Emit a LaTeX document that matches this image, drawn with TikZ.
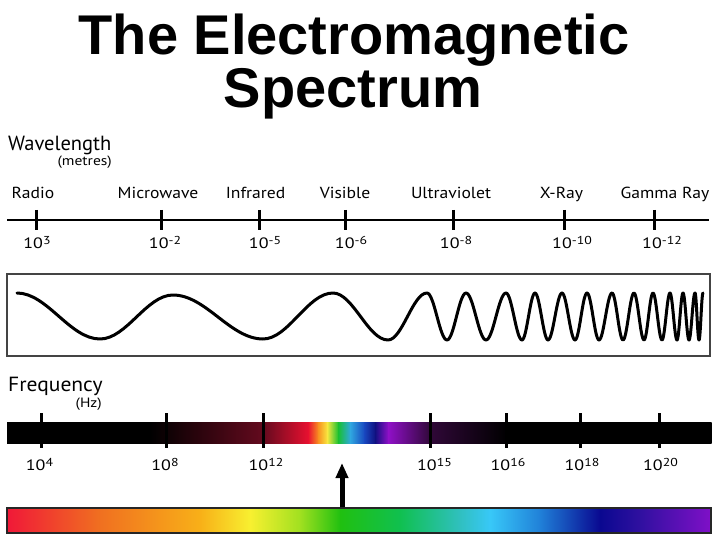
\documentclass[tikz,border=0pt]{standalone}
\usepackage{fontspec}
\setmainfont{PT Sans}
\newfontfamily\titlefont{Liberation Sans}
\usetikzlibrary{arrows.meta}
\newcommand\tenp[1]{10\raisebox{4pt}{\fontsize{11.5}{12}\selectfont #1}}
\definecolor{fmaroon}{HTML}{640A1E}
\definecolor{fred}{HTML}{E81030}
\definecolor{forange}{HTML}{F89020}
\definecolor{fyellow}{HTML}{F8E840}
\definecolor{fgreen}{HTML}{18C030}
\definecolor{fcyan}{HTML}{30A8E0}
\definecolor{fblue}{HTML}{1848C0}
\definecolor{fnavy}{HTML}{101080}
\definecolor{fviolet}{HTML}{9010C8}
\definecolor{fdpurple}{HTML}{300838}
\definecolor{s1}{HTML}{F01838}
\definecolor{s2}{HTML}{F07020}
\definecolor{s3}{HTML}{F8B018}
\definecolor{s4}{HTML}{F8F030}
\definecolor{s5}{HTML}{A0E020}
\definecolor{s6}{HTML}{20C010}
\definecolor{s7}{HTML}{10C050}
\definecolor{s8}{HTML}{30C0C0}
\definecolor{s9}{HTML}{38C8F8}
\definecolor{s10}{HTML}{2080D8}
\definecolor{s11}{HTML}{1030A8}
\definecolor{s12}{HTML}{0A0890}
\definecolor{s13}{HTML}{3010A0}
\definecolor{s14}{HTML}{8010C8}
\definecolor{boxgray}{HTML}{444444}
\tikzset{
  titletext/.style={font=\titlefont\bfseries\fontsize{56}{60}\selectfont, anchor=base, inner sep=0pt},
  headtext/.style={font=\fontsize{20.5}{22}\selectfont, anchor=base west, inner sep=0pt},
  unittext/.style={font=\fontsize{13.5}{15}\selectfont, anchor=base east, inner sep=0pt, xscale=1.15},
  bandtext/.style={font=\fontsize{16}{18}\selectfont, anchor=base, inner sep=0pt, xscale=1.1},
  numtext/.style={font=\fontsize{15}{18}\selectfont, anchor=base, inner sep=0pt, xscale=1.2},
  axisline/.style={line width=2.5pt, black},
  tickmark/.style={line width=3pt, black},
  wave/.style={line width=3pt, black, line cap=round, line join=round},
}
\begin{document}
\begin{tikzpicture}[x=1pt,y=-1pt]
\fill[white] (0,0) rectangle (720,540);
\useasboundingbox (0,0) rectangle (720,540);
% title
\node[titletext] (title1) at (354,55) {The Electromagnetic};
\node[titletext] (title2) at (353,108) {Spectrum};
% wavelength
\node[headtext] (wl) at (8,151) {Wavelength};
\node[unittext] (wlunit) at (112,166) {(metres)};
\coordinate (wlL) at (7,220);
\coordinate (wlR) at (709,220);
\draw[axisline] (wlL) -- (wlR);
\foreach \n/\x/\lx/\lab/\nx/\num in {
  radio/36/33/Radio/37/3,
  micro/161/158/Microwave/165/-2,
  infra/259/255.5/Infrared/265/-5,
  vis/345/345/Visible/351/-6,
  uv/453/451/Ultraviolet/456/-8,
  xray/564/561.5/X-Ray/572/-10,
  gamma/654/665/Gamma Ray/662/-12}{
  \coordinate (t\n a) at (\x,210);
  \coordinate (t\n b) at (\x,230);
  \draw[tickmark] (t\n a) -- (t\n b);
  \node[bandtext] (l\n) at (\lx,199) {\lab};
  \node[numtext] (n\n) at (\nx,248) {\tenp{\num}};
}
% wave box
\node[draw=boxgray, line width=2pt, minimum width=703pt, minimum height=82pt, inner sep=0pt] (wavebox) at (358.5,315) {};
\draw[wave] (17,293)
  .. controls +(30.2,0) and +(-30.2,0) .. (100,339)
  .. controls +(26.6,0) and +(-26.6,0) .. (173,295)
  .. controls +(32.8,0) and +(-32.8,0) .. (263,339)
  .. controls +(25.5,0) and +(-25.5,0) .. (333,293)
  .. controls +(20,0) and +(-20,0) .. (388,340)
  .. controls +(14.2,0) and +(-14.2,0) .. (427,293)
  .. controls +(7.3,0) and +(-7.3,0) .. (447,340)
  .. controls +(6.9,0) and +(-6.9,0) .. (466,293)
  .. controls +(7.3,0) and +(-7.3,0) .. (486,340)
  .. controls +(7.3,0) and +(-7.3,0) .. (506,293)
  .. controls +(5.8,0) and +(-5.8,0) .. (522,340)
  .. controls +(4.7,0) and +(-4.7,0) .. (535,293)
  .. controls +(4.7,0) and +(-4.7,0) .. (548,340)
  .. controls +(5.1,0) and +(-5.1,0) .. (562,293)
  .. controls +(4.7,0) and +(-4.7,0) .. (575,340)
  .. controls +(4.4,0) and +(-4.4,0) .. (587,293)
  .. controls +(4.4,0) and +(-4.4,0) .. (599,340)
  .. controls +(4.7,0) and +(-4.7,0) .. (612,293)
  .. controls +(4.0,0) and +(-4.0,0) .. (623,340)
  .. controls +(4.0,0) and +(-4.0,0) .. (634,293)
  .. controls +(3.6,0) and +(-3.6,0) .. (644,340)
  .. controls +(3.3,0) and +(-3.3,0) .. (653,293)
  .. controls +(3.3,0) and +(-3.3,0) .. (662,340)
  .. controls +(2.9,0) and +(-2.9,0) .. (670,293)
  .. controls +(2.5,0) and +(-2.5,0) .. (677,340)
  .. controls +(2.2,0) and +(-2.2,0) .. (683,293)
  .. controls +(2.2,0) and +(-2.2,0) .. (689,340)
  .. controls +(2.2,0) and +(-2.2,0) .. (695,293)
  .. controls +(1.5,0) and +(-1.5,0) .. (699,340)
  .. controls +(1.5,0) and +(-1.5,0) .. (703,293);
% frequency
\node[headtext, xscale=1.05] (fq) at (8,391) {Frequency};
\node[unittext] (fqunit) at (102,407) {(Hz)};
\foreach \a/\b/\ca/\cb in {7/150/black/black, 150/263/black/fmaroon, 263/308/fmaroon/fred,
  308/318/fred/forange, 318/327/forange/fyellow, 327/338/fyellow/fgreen, 338/350/fgreen/fcyan,
  350/364/fcyan/fblue, 364/375/fblue/fnavy, 375/388/fnavy/fviolet, 388/430/fviolet/fdpurple,
  430/507/fdpurple/black, 507/711/black/black}{
  \shade[left color=\ca, right color=\cb] (\a,422) rectangle (\b+0.6,443);
}
\foreach \n/\x/\nx/\num in {f4/41/39.5/4, f8/166/165/8, f12/263/266/12, f15/430/434.5/15,
  f16/506/508/16, f18/580/582/18, f20/659/660.5/20}{
  \coordinate (\n a) at (\x,413);
  \coordinate (\n b) at (\x,448);
  \draw[tickmark] (\n a) -- (\n b);
  \node[numtext] (n\n) at (\nx,470) {\tenp{\num}};
}
% visible spectrum bar
\foreach \a/\b/\ca/\cb in {7/100/s1/s2, 100/200/s2/s3, 200/250/s3/s4, 250/300/s4/s5,
  300/340/s5/s6, 340/400/s6/s7, 400/460/s7/s8, 460/490/s8/s9, 490/540/s9/s10,
  540/580/s10/s11, 580/600/s11/s12, 600/640/s12/s13, 640/711/s13/s14}{
  \shade[left color=\ca, right color=\cb] (\a,508) rectangle (\b+0.6,533);
}
\node[draw=black!85, line width=1.5pt, minimum width=704pt, minimum height=25pt, inner sep=0pt] (visbar) at (359,520.5) {};
% arrow
\coordinate (arrowtip) at (342,463);
\draw[line width=5pt, -{Triangle[width=12pt,length=15pt]}] (visbar.north -| arrowtip) -- (arrowtip);
\end{tikzpicture}
\end{document}
